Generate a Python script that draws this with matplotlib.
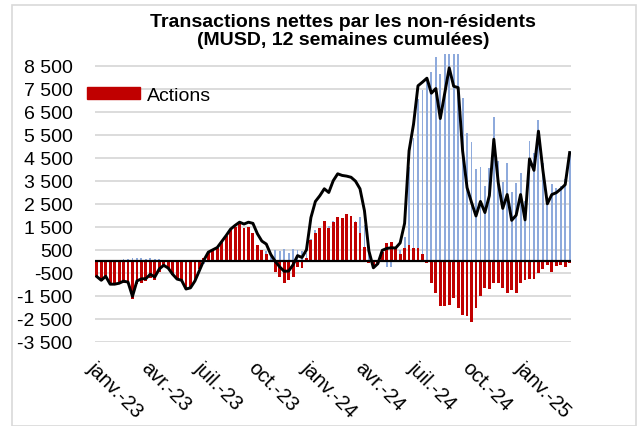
import matplotlib.pyplot as plt
from matplotlib.patches import Rectangle, Patch
from matplotlib.ticker import FuncFormatter

plt.rcParams['font.family'] = ['Liberation Sans', 'DejaVu Sans']

# weekly data, 12-week cumulative net flows (MUSD)
total = [-660, -820, -650, -990, -990, -950, -860, -900, -1520, -850,
         -760, -750, -560, -680, -330, -170, -290, -560, -770, -820,
         -1200, -1150, -850, -400, 50, 400, 500, 600, 860, 1120,
         1400, 1560, 1700, 1620, 1700, 1650, 1200, 880, 750, 300,
         0, -240, -430, -420, -150, 250, 170, 500, 1900, 2600,
         2850, 3150, 2990, 3500, 3800, 3730, 3700, 3650, 3480, 3150,
         2200, 450, -280, -100, 480, 560, 590, 580, 800, 1650,
         4800, 5950, 7620, 7780, 7950, 7300, 7500, 6200, 7300, 8400,
         7600, 7540, 4800, 3200, 2560, 1970, 2600, 2120, 2850, 5300,
         3400, 2300, 2900, 1780, 2000, 2900, 1800, 4450, 3950, 5650,
         3950, 2500, 2900, 2980, 3140, 3330, 4720]

actions = [-700, -850, -680, -1000, -1000, -1000, -950, -1000, -1650, -1000,
           -920, -850, -720, -800, -450, -250, -300, -580, -750, -800,
           -1150, -1100, -820, -350, 150, 380, 480, 600, 850, 1100,
           1380, 1500, 1650, 1450, 1500, 1250, 700, 480, 300, 50,
           -480, -700, -950, -800, -700, -250, -280, 150, 920, 1250,
           1460, 1770, 1460, 1730, 1930, 1890, 2060, 1970, 1730, 1240,
           610, -60, -270, -50, 400, 800, 840, 600, 300, 580,
           690, 580, 580, 330, -50, -940, -1370, -1950, -1950, -1880,
           -1590, -2020, -2310, -2350, -2640, -2020, -1500, -1150, -1200, -950,
           -950, -1150, -1370, -1250, -1380, -920, -830, -780, -770, -490,
           -320, -170, -460, -220, -150, -260, -70]

obligations = [40, 30, 30, 10, 10, 50, 90, 100, 130, 150,
               160, 100, 160, 120, 120, 80, 10, 20, -20, -20,
               -50, -50, -30, -50, -100, 20, 20, 0, 10, 20,
               20, 60, 50, 170, 200, 400, 500, 400, 450, 250,
               480, 460, 520, 380, 550, 500, 450, 350, 980, 1350,
               1390, 1380, 1530, 1770, 1870, 1840, 1640, 1680, 1750, 1910,
               1590, 510, -10, -50, 80, -240, -250, -20, 500, 1070,
               4110, 5370, 7040, 7450, 8000, 8240, 8870, 8150, 9250, 10280,
               9190, 9560, 7110, 5550, 5200, 3990, 4100, 3270, 4050, 6250,
               4350, 3450, 4270, 3030, 3380, 3820, 2630, 5230, 4720, 6140,
               4270, 2670, 3360, 3200, 3290, 3590, 4790]

tick_pos = [0, 12, 24, 36, 48, 60, 72, 84, 96]
tick_labels = ['janv.-23', 'avr.-23', 'juil.-23', 'oct.-23', 'janv.-24',
               'avr.-24', 'juil.-24', 'oct.-24', 'janv.-25']
y_ticks = list(range(-3500, 9000, 1000))

x = list(range(len(total)))

fig = plt.figure(figsize=(6.44, 4.27), dpi=100)
fig.patches.append(Rectangle((12 / 644, 0), 624 / 644, 421 / 427, transform=fig.transFigure,
                             fill=False, edgecolor='#d9d9d9', lw=1.2))
ax = fig.add_axes([95 / 644, 84 / 427, 476 / 644, 288 / 427])

ax.bar(x, obligations, width=0.42, color='#8eaadc', zorder=2)
ax.bar(x, actions, width=0.64, color='#c00000', zorder=3, label='Actions')
ax.axhline(0, color='black', lw=1.6, zorder=4)
ax.plot(x, total, color='black', lw=2.1, zorder=5)

ax.set_xlim(-0.4, 106.3)
ax.set_ylim(-3500, 9000)
ax.set_yticks(y_ticks)
ax.yaxis.set_major_formatter(FuncFormatter(lambda v, p: f'{v:,.0f}'.replace(',', ' ')))
ax.grid(axis='y', color='#d9d9d9', lw=1.3, zorder=0)
ax.set_axisbelow(True)
for s in ax.spines.values():
    s.set_visible(False)
ax.tick_params(axis='y', length=0, labelsize=14, pad=16)
ax.set_xticks(tick_pos)
ax.set_xticklabels(tick_labels, rotation=-45, ha='left', va='top',
                   rotation_mode='anchor', fontsize=14.5)
ax.tick_params(axis='x', length=0, pad=11)

ax.legend(handles=[Patch(color='#c00000', label='Actions')], loc='upper left',
          bbox_to_anchor=(87 / 644, 1 - 88 / 427), bbox_transform=fig.transFigure,
          frameon=False, fontsize=14, handlelength=2.75, handleheight=0.6,
          handletextpad=0.35, borderaxespad=0, borderpad=0)

fig.text(0.533, 0.968, 'Transactions nettes par les non-résidents\n(MUSD, 12 semaines cumulées)',
         ha='center', va='top', fontsize=14, fontweight='bold', linespacing=1.12)

fig.savefig('out.png', dpi=100)
